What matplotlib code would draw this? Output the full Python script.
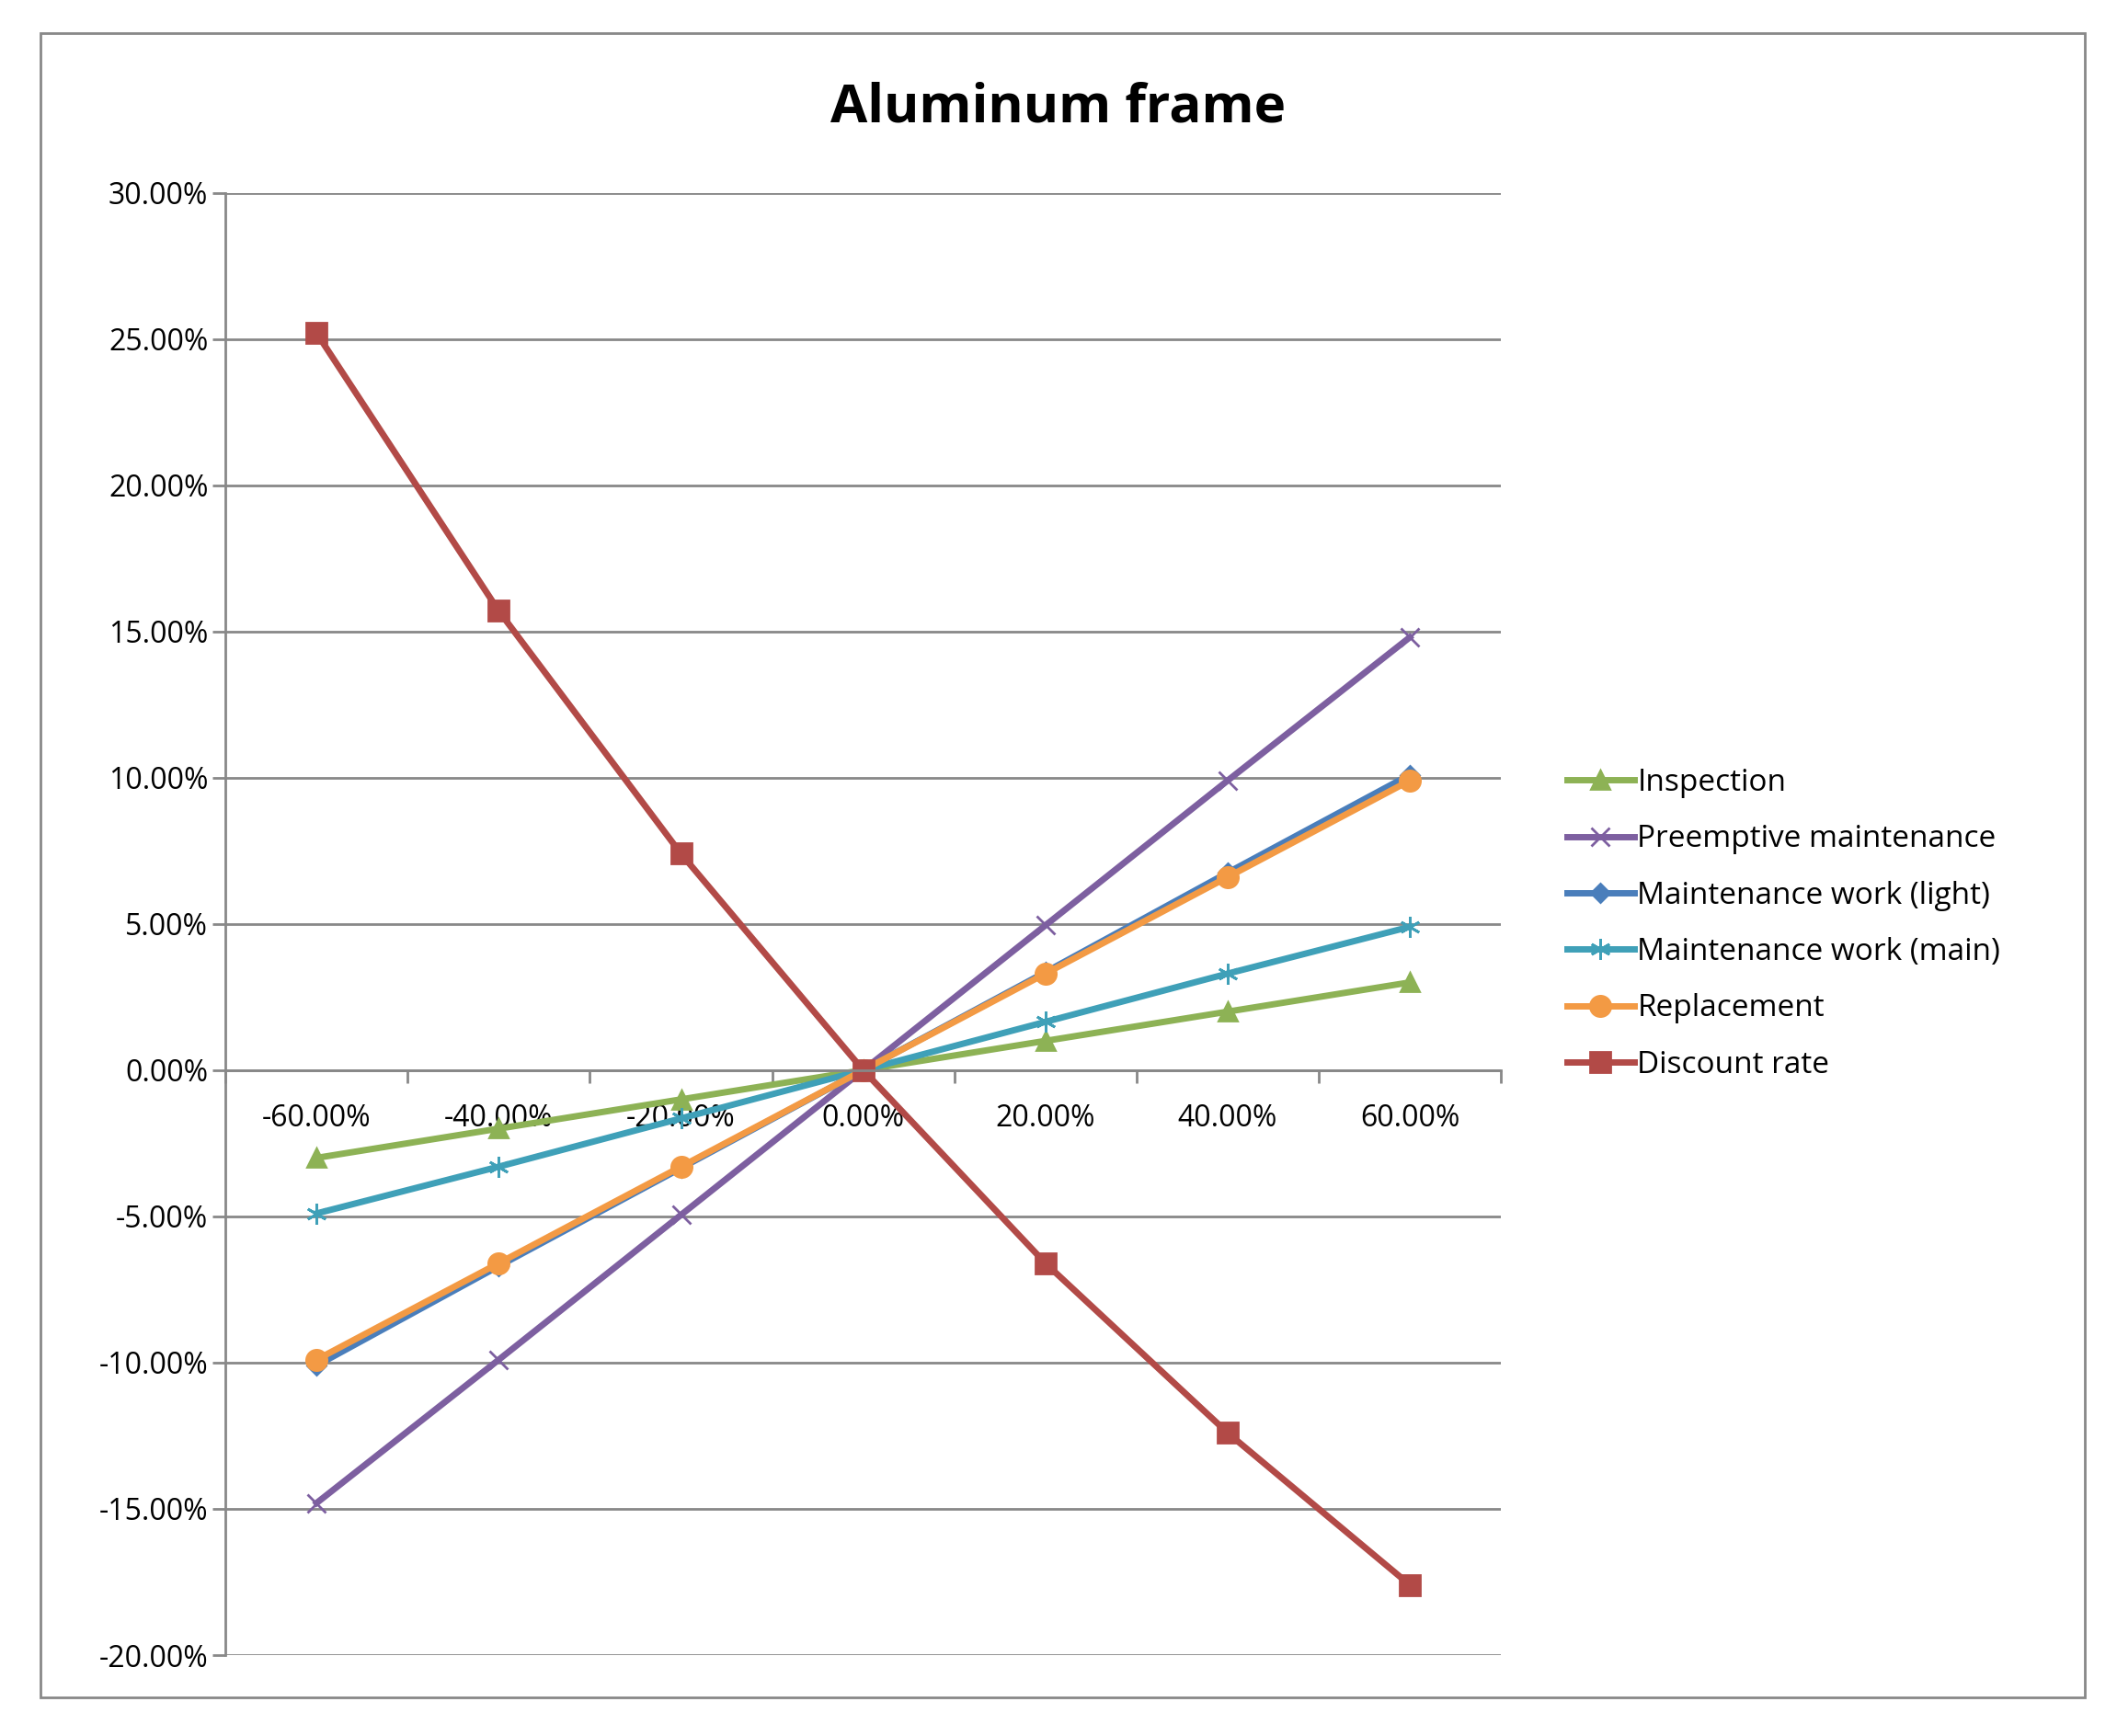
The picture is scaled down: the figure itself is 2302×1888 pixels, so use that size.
import matplotlib.pyplot as plt
from matplotlib.patches import Rectangle

plt.rcParams['font.family'] = ['Open Sans', 'DejaVu Sans']

categories = ["-60.00%", "-40.00%", "-20.00%", "0.00%", "20.00%", "40.00%", "60.00%"]
inspection = [-3.0, -2.0, -1.0, 0, 1.0, 2.0, 3.0]
preemptive = [-14.8, -9.9, -4.95, 0, 4.95, 9.9, 14.8]
maint_light = [-10.1, -6.7, -3.35, 0, 3.35, 6.75, 10.1]
maint_main = [-4.9, -3.3, -1.65, 0, 1.65, 3.3, 4.9]
replacement = [-9.9, -6.6, -3.3, 0, 3.3, 6.6, 9.9]
discount = [25.2, 15.7, 7.4, 0, -6.6, -12.4, -17.6]

fig = plt.figure(figsize=(23.02, 18.88), dpi=100)
fig.patches.append(Rectangle((0.019, 0.022), 0.966, 0.959, transform=fig.transFigure,
                             fill=False, edgecolor="#888888", linewidth=2))
ax = fig.add_axes([0.1065, 0.0466, 0.6025, 0.8424])
x = range(len(categories))

series = [
    ("Inspection", inspection, "#8db255", "^", 14),
    ("Preemptive maintenance", preemptive, "#7d5fa0", "x", 14),
    ("Maintenance work (light)", maint_light, "#4a7ebb", "D", 10),
    ("Maintenance work (main)", maint_main, "#3fa0b8", (6, 2, 0), 16),
    ("Replacement", replacement, "#f39a44", "o", 16),
    ("Discount rate", discount, "#b24a47", "s", 16),
]
for name, vals, color, marker, ms in series:
    ax.plot(x, vals, color=color, marker=marker, markersize=ms, linewidth=5,
            markeredgewidth=2, label=name)

ax.set_xlim(-0.5, 6.5)
ax.set_ylim(-20, 30)
ax.set_yticks(range(-20, 31, 5))
ax.set_yticklabels([f"{v:.2f}%" for v in range(-20, 31, 5)])
ax.yaxis.grid(True, color="#888888", linewidth=2)
ax.set_axisbelow(True)
ax.set_xticks(x)
ax.set_xticklabels(categories)
ax.set_xticks([i - 0.5 for i in range(8)], minor=True)
ax.tick_params(axis="x", which="major", length=0, pad=26, labelsize=23)
ax.tick_params(axis="x", which="minor", length=10, width=2, color="#888888")
ax.tick_params(axis="y", length=10, width=2, color="#888888", labelsize=23)
for s in ["top", "right"]:
    ax.spines[s].set_visible(False)
ax.spines["bottom"].set_position(("data", 0))
ax.spines["bottom"].set_color("#888888")
ax.spines["bottom"].set_linewidth(2)
ax.spines["left"].set_color("#888888")
ax.spines["left"].set_linewidth(2)

fig.text(0.5, 0.938, "Aluminum frame", ha="center", va="center",
         fontsize=42, fontweight="bold")
ax.legend(loc="center left", bbox_to_anchor=(1.03, 0.5), frameon=False,
          fontsize=24, handlelength=2.2, handletextpad=0.1, labelspacing=0.85)

fig.savefig("out.png", dpi=100)
